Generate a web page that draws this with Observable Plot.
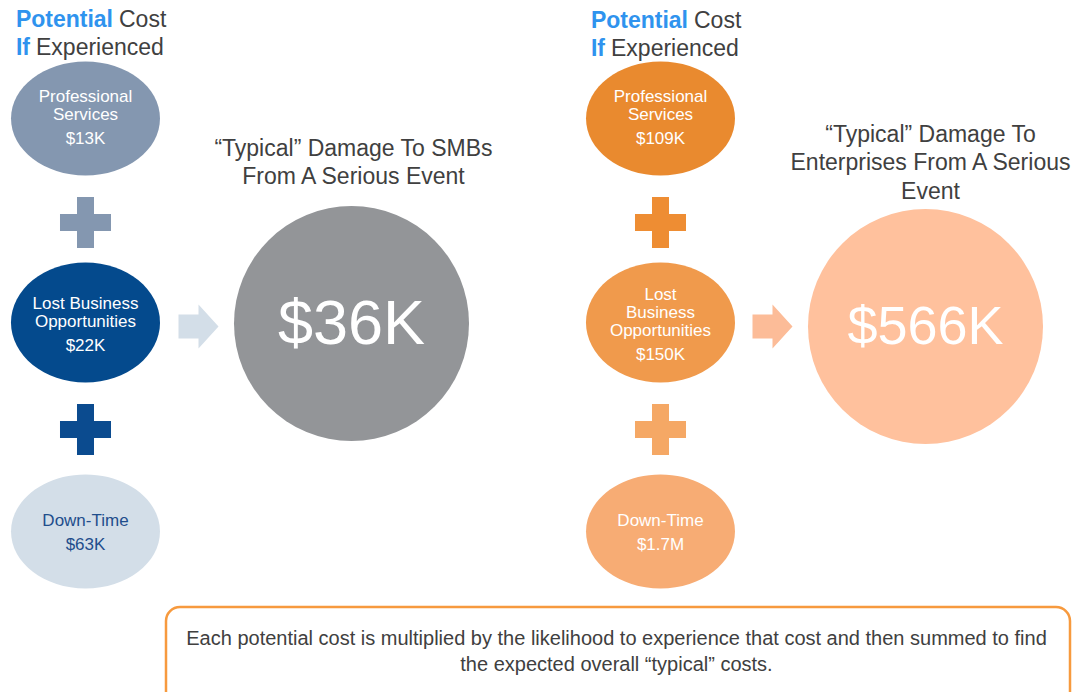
<!DOCTYPE html>
<html><head><meta charset="utf-8">
<script src="https://cdn.jsdelivr.net/npm/d3@7"></script>
<script src="https://cdn.jsdelivr.net/npm/@observablehq/plot@0.6"></script>
<style>html,body{margin:0;padding:0;background:#fff;overflow:hidden}#chart svg{display:block}</style>
</head><body><div id="chart"></div>
<script>
// ---------- DATA ----------
const segments = ["SMBs", "Enterprises"];
const costTypes = ["Professional Services", "Lost Business Opportunities", "Down-Time"];
const smbCostLabels = [["Professional", "Services"], ["Lost Business", "Opportunities"], ["Down-Time"]];
const entCostLabels = [["Professional", "Services"], ["Lost", "Business", "Opportunities"], ["Down-Time"]];
const smbCosts = ["$13K", "$22K", "$63K"];
const entCosts = ["$109K", "$150K", "$1.7M"];
const typicalTotals = ["$36K", "$566K"];
const totalTitles = [["“Typical” Damage To SMBs", "From A Serious Event"], ["“Typical” Damage To", "Enterprises From A Serious", "Event"]];
const headerWords = [["Potential", "Cost"], ["If", "Experienced"]];
const footnoteLines = ["Each potential cost is multiplied by the likelihood to experience that cost and then summed to find", "the expected overall “typical” costs."];

// ---------- STYLE ----------
const palette = [
  {ellipse: ["#8497B0", "#044A8D", "#D3DEE8"], text: ["#ffffff", "#ffffff", "#1F4E8C"], plus: ["#8497B0", "#0B4B8F"], arrow: "#D3DEE8", total: "#939598"},
  {ellipse: ["#E98A2F", "#F09A4C", "#F7AC74"], text: ["#ffffff", "#ffffff", "#ffffff"], plus: ["#EE8D33", "#F5A865"], arrow: "#FCBC98", total: "#FFC19D"}
];
const blue = "#2F93EE", dark = "#404040", boxStroke = "#F79A3E";
const FONT = "'Liberation Sans', Arial, sans-serif";

// ---------- LAYOUT ----------
const W = 1078, H = 692;
const colX = [85, 660];
const rowY = [118, 322, 531];
const rowTextShift = [-1, 2, 1];
const plusY = [222, 429];
const arrowX = [198, 772], arrowY = [326, 326];
const totalX = [351, 925], totalY = [323, 326];
const totalTitleTop = [148, 134], titleStep = 28.5;
const headerY = [[19, 47], [20, 48]];
const headerSplit = [30, -53];

function ellipseSymbol(k) {
  return {draw(ctx, size) {
    const rx = Math.sqrt(size / Math.PI), ry = rx * k, c = 0.5523;
    ctx.moveTo(rx, 0);
    ctx.bezierCurveTo(rx, ry * c, rx * c, ry, 0, ry);
    ctx.bezierCurveTo(-rx * c, ry, -rx, ry * c, -rx, 0);
    ctx.bezierCurveTo(-rx, -ry * c, -rx * c, -ry, 0, -ry);
    ctx.bezierCurveTo(rx * c, -ry, rx, -ry * c, rx, 0);
    ctx.closePath();
  }};
}
const arrowSymbol = {draw(ctx, size) {
  const s = Math.sqrt(size / Math.PI) / 20;
  const pts = [[-20, -12], [0, -12], [0, -22], [20, 0], [0, 22], [0, 12], [-20, 12]];
  ctx.moveTo(pts[0][0] * s, pts[0][1] * s);
  for (const [x, y] of pts.slice(1)) ctx.lineTo(x * s, y * s);
  ctx.closePath();
}};

const ellipses = [], ellipseText = [], pluses = [], arrows = [], totals = [], titles = [], headBold = [], headReg = [];
segments.forEach((seg, si) => {
  const labels = si === 0 ? smbCostLabels : entCostLabels;
  const costs = si === 0 ? smbCosts : entCosts;
  costTypes.forEach((ct, ri) => {
    ellipses.push({x: colX[si], y: rowY[ri], row: ri, color: palette[si].ellipse[ri]});
    const lines = labels[ri];
    const blockH = (lines.length - 1) * 18 + 24;
    const y0 = rowY[ri] + rowTextShift[ri] - blockH / 2;
    lines.forEach((t, li) => ellipseText.push({x: colX[si], y: y0 + li * 18, text: t, color: palette[si].text[ri]}));
    ellipseText.push({x: colX[si], y: y0 + (lines.length - 1) * 18 + 24, text: costs[ri], color: palette[si].text[ri]});
  });
  plusY.forEach((py, pi) => pluses.push({x: colX[si], y: py, color: palette[si].plus[pi]}));
  arrows.push({x: arrowX[si], y: arrowY[si], color: palette[si].arrow});
  totals.push({x: totalX[si], y: totalY[si], color: palette[si].total, text: typicalTotals[si]});
  totalTitles[si].forEach((t, li) => titles.push({x: totalX[si] + (si === 0 ? 2 : 5), y: totalTitleTop[si] + li * titleStep, text: t}));
  headerWords.forEach(([b, r], li) => {
    const sx = colX[si] + headerSplit[li];
    headBold.push({x: sx - 2.5, y: headerY[si][li], text: b});
    headReg.push({x: sx + 3.5, y: headerY[si][li], text: r});
  });
});
const footRows = footnoteLines.map((t, i) => ({x: 616, y: 638 + i * 26, text: t}));
const box = [{x1: 166, x2: 1070, y1: 607, y2: 720}];

const chart = Plot.plot({
  width: W, height: H, margin: 0,
  x: {domain: [0, W], range: [0, W], axis: null},
  y: {domain: [0, H], range: [0, H], axis: null},
  color: {type: "identity"},
  style: {fontFamily: FONT, background: "#fff"},
  marks: [
    Plot.rect(box, {x1: "x1", x2: "x2", y1: "y1", y2: "y2", rx: 14, fill: "white", stroke: boxStroke, strokeWidth: 2.5}),
    Plot.dot(ellipses.filter(d => d.row !== 1), {x: "x", y: "y", r: 74.5, symbol: ellipseSymbol(0.765), fill: "color", stroke: null}),
    Plot.dot(ellipses.filter(d => d.row === 1), {x: "x", y: "y", r: 74.5, symbol: ellipseSymbol(0.805), fill: "color", stroke: null}),
    Plot.dot(pluses, {x: "x", y: "y", r: 21.45, symbol: "cross", fill: "color", stroke: null}),
    Plot.dot(arrows, {x: "x", y: "y", r: 20, symbol: arrowSymbol, fill: "color", stroke: null}),
    Plot.dot(totals, {x: "x", y: "y", r: 117.5, fill: "color", stroke: null}),
    Plot.text(ellipseText, {x: "x", y: "y", text: "text", fill: "color", fontSize: 17, fontFamily: FONT}),
    Plot.text(totals.filter((d, i) => i === 0), {x: "x", y: "y", text: "text", fill: "white", fontSize: 63, fontFamily: FONT}),
    Plot.text(totals.filter((d, i) => i === 1), {x: "x", y: "y", text: "text", fill: "white", fontSize: 54, fontFamily: FONT}),
    Plot.text(titles, {x: "x", y: "y", text: "text", fill: dark, fontSize: 23, fontFamily: FONT}),
    Plot.text(headBold, {x: "x", y: "y", text: "text", fill: blue, fontSize: 23, fontWeight: "bold", textAnchor: "end", fontFamily: FONT}),
    Plot.text(headReg, {x: "x", y: "y", text: "text", fill: dark, fontSize: 23, textAnchor: "start", fontFamily: FONT}),
    Plot.text(footRows, {x: "x", y: "y", text: "text", fill: dark, fontSize: 20, fontFamily: FONT})
  ]
});
document.getElementById("chart").appendChild(chart);
</script>
</body></html>
